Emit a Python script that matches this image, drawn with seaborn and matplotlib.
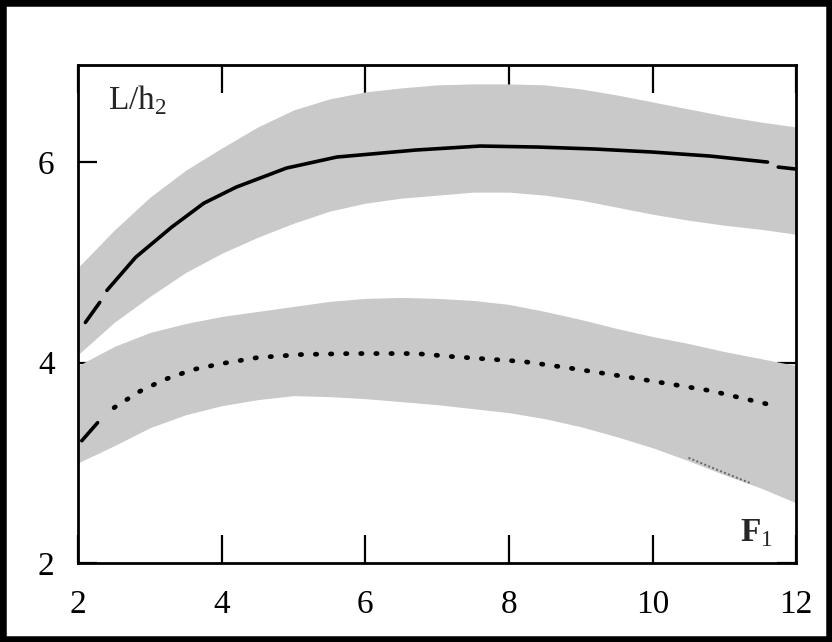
import numpy as np
import pandas as pd
import seaborn as sns
import matplotlib.pyplot as plt
from matplotlib.patches import Rectangle

# grid for the shaded bands
F_band = [2.0, 2.5, 3.0, 3.5, 4.0, 4.5, 5.0, 5.5, 6.0, 6.5, 7.0,
          7.5, 8.0, 8.5, 9.0, 9.5, 10.0, 10.5, 11.0, 11.5, 12.0]
upper_hi = [4.95, 5.32, 5.65, 5.92, 6.14, 6.35, 6.52, 6.63, 6.70, 6.74, 6.77,
            6.78, 6.78, 6.77, 6.73, 6.67, 6.60, 6.53, 6.46, 6.40, 6.35]
upper_lo = [4.08, 4.40, 4.66, 4.90, 5.09, 5.25, 5.39, 5.51, 5.59, 5.64, 5.67,
            5.70, 5.70, 5.67, 5.62, 5.55, 5.48, 5.42, 5.37, 5.33, 5.28]
lower_hi = [3.97, 4.16, 4.30, 4.39, 4.46, 4.51, 4.56, 4.61, 4.64, 4.65, 4.64,
            4.62, 4.58, 4.51, 4.43, 4.34, 4.26, 4.19, 4.11, 4.04, 3.97]
lower_lo = [3.00, 3.17, 3.35, 3.48, 3.57, 3.63, 3.67, 3.66, 3.64, 3.61, 3.58,
            3.54, 3.50, 3.44, 3.36, 3.26, 3.15, 3.02, 2.88, 2.75, 2.60]

# solid curve (main part + short dashes at both ends)
F_solid = [2.4, 2.8, 3.3, 3.75, 4.2, 4.9, 5.6, 6.7, 7.6, 8.4, 9.2, 10.0, 10.8, 11.6]
L_solid = [4.72, 5.05, 5.35, 5.59, 5.75, 5.94, 6.05, 6.12, 6.16, 6.15, 6.13, 6.10, 6.06, 6.00]
F_solid_start, L_solid_start = [2.1, 2.3], [4.40, 4.60]
F_solid_end, L_solid_end = [11.75, 12.0], [5.95, 5.93]

# dotted curve
F_dot = [2.5, 2.85, 3.2, 3.6, 4.0, 4.5, 5.1, 5.8, 6.7, 7.2, 8.2, 8.8, 9.7, 10.8, 11.75]
L_dot = [3.55, 3.71, 3.83, 3.93, 3.99, 4.05, 4.08, 4.09, 4.09, 4.06, 4.01, 3.95, 3.85, 3.72, 3.56]
F_dot_start, L_dot_start = [2.05, 2.27], [3.22, 3.40]

# faint trace near the lower band edge
F_faint = [10.5, 10.9, 11.35]
L_faint = [3.05, 2.93, 2.80]

x_ticks = [2, 4, 6, 8, 10, 12]
y_ticks = [2, 4, 6]

sns.set_theme(style="ticks")
plt.rcParams['font.family'] = ['Liberation Serif', 'DejaVu Serif']
plt.rcParams['mathtext.fontset'] = 'custom'
plt.rcParams['mathtext.rm'] = 'Liberation Serif'
plt.rcParams['mathtext.bf'] = 'Liberation Serif:bold'

fig = plt.figure(figsize=(8.32, 6.42), dpi=100)
ax = fig.add_axes([0.094, 0.123, 0.863, 0.776])

band_color = "#c9c9c9"
ax.fill_between(F_band, upper_lo, upper_hi, color=band_color, lw=0)
ax.fill_between(F_band, lower_lo, lower_hi, color=band_color, lw=0)

sns.lineplot(x=F_solid, y=L_solid, ax=ax, color="black", lw=2.6, sort=False)
sns.lineplot(x=F_solid_start, y=L_solid_start, ax=ax, color="black", lw=2.6, sort=False)
sns.lineplot(x=F_solid_end, y=L_solid_end, ax=ax, color="black", lw=2.6, sort=False)

dot_df = pd.DataFrame({"F": F_dot, "L": L_dot})
sns.lineplot(data=dot_df, x="F", y="L", ax=ax, color="black", lw=3.4,
             dashes=False, sort=False)
ax.lines[-1].set_dashes([0.3, 2.9])
ax.lines[-1].set_dash_capstyle("round")
sns.lineplot(x=F_dot_start, y=L_dot_start, ax=ax, color="black", lw=2.6, sort=False)
sns.lineplot(x=F_faint, y=L_faint, ax=ax, color="#666666", lw=1.4, sort=False)
ax.lines[-1].set_linestyle((0, (1, 1.2)))

ax.set_xlim(2, 12)
ax.set_ylim(2, 6.97)
ax.set_xticks(x_ticks)
ax.set_yticks(y_ticks)
ax.set_xticklabels([str(t) for t in x_ticks])
ax.set_yticklabels([str(t) for t in y_ticks])
ax.set_xlabel("")
ax.set_ylabel("")

ax.tick_params(axis="x", direction="in", length=20, width=1.6, top=True,
               labelsize=24, pad=19, colors="black")
ax.tick_params(axis="y", direction="in", length=14, width=1.6, right=True,
               labelsize=24, pad=17, colors="black")
for s in ax.spines.values():
    s.set_visible(True)
    s.set_linewidth(2.0)
    s.set_color("black")

ax.text(2.42, 6.62, r"L/h$_\mathregular{2}$", fontsize=24, ha="left", va="center")
ax.text(11.22, 2.3, r"$\mathbf{F}_\mathregular{1}$", fontsize=24, ha="left", va="center")

# outer frame around the whole picture
fig.patches.append(Rectangle((0, 0), 1, 1, transform=fig.transFigure,
                             fill=False, ec="black", lw=9))

plt.savefig("out.png", dpi=100)
